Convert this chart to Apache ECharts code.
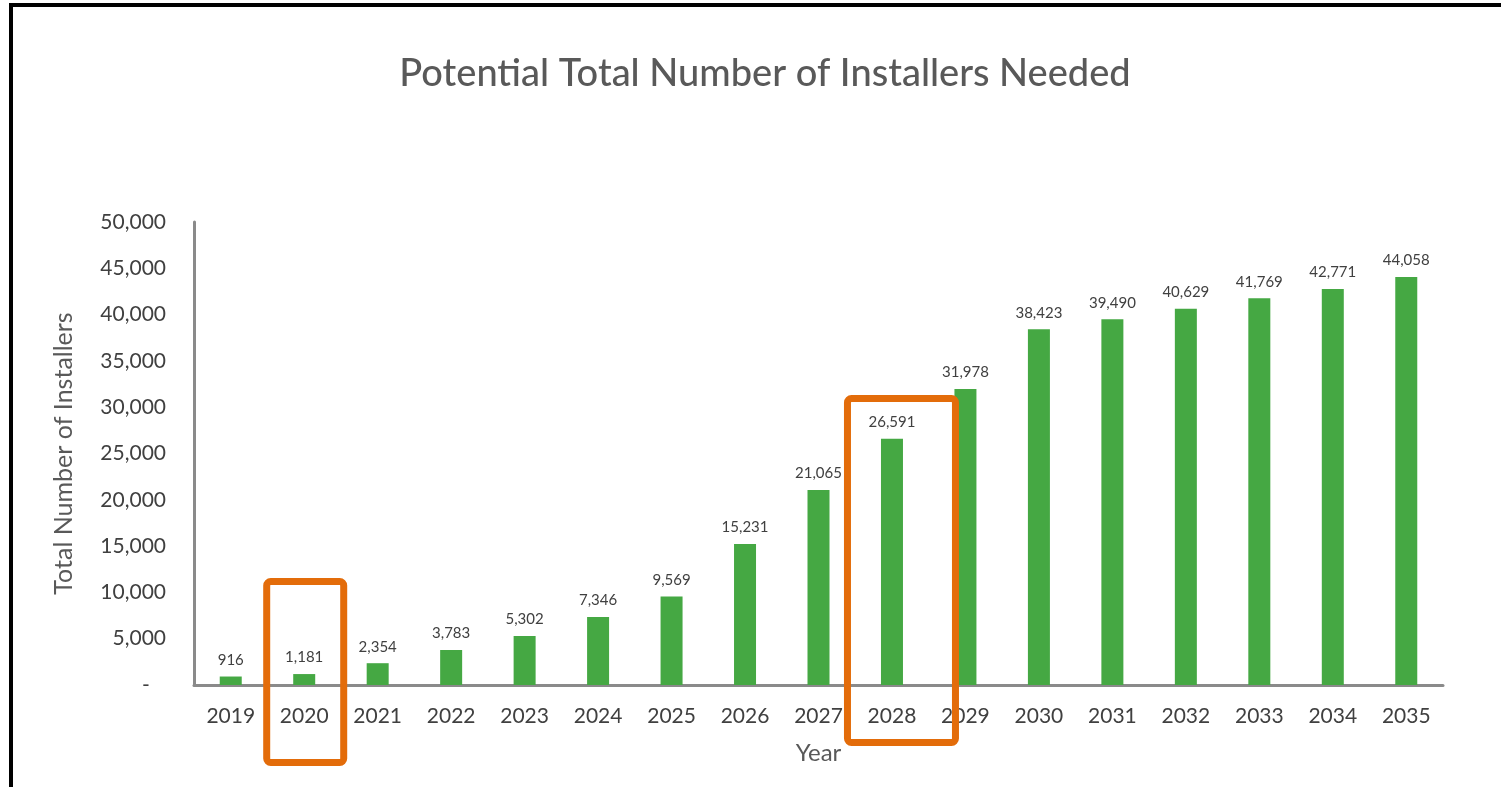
<!DOCTYPE html>
<html>
<head>
<meta charset="utf-8">
<script src="https://cdn.jsdelivr.net/npm/echarts@6/dist/echarts.min.js"></script>
<style>
html, body { margin: 0; padding: 0; background: #fff; }
#main { width: 1501px; height: 787px; }
</style>
</head>
<body>
<div id="main"></div>
<script>
// 年份与安装人员数量
var years = ["2019", "2020", "2021", "2022", "2023", "2024", "2025", "2026", "2027",
	"2028", "2029", "2030", "2031", "2032", "2033", "2034", "2035"];
var installers = [916, 1181, 2354, 3783, 5302, 7346, 9569, 15231, 21065,
	26591, 31978, 38423, 39490, 40629, 41769, 42771, 44058];
// 需要框起来的年份
var highlight_years = ["2020", "2028"];
var highlight_boxes = [
	{ year: "2020", left: 41, right: 43, top: 578, bottom: 766 },
	{ year: "2028", left: 48, right: 67, top: 395, bottom: 746 }
];

var font = "Lato, 'Open Sans', sans-serif";
function fmt(v) {
	if (v === 0) return "-";
	return v.toLocaleString("en-US");
}

var chart = echarts.init(document.getElementById("main"));
var option = {
	backgroundColor: "#fff",
	animation: false,
	title: {
		text: "Potential Total Number of Installers Needed",
		left: 760,
		textAlign: "center",
		top: 50,
		textStyle: { color: "#595959", fontSize: 38, fontWeight: 500, fontFamily: font }
	},
	grid: { left: 194, right: 58, top: 222, bottom: 102 },
	xAxis: {
		type: "category",
		data: years,
		name: "Year",
		nameLocation: "middle",
		nameGap: 56,
		nameTextStyle: { color: "#595959", fontSize: 24, fontFamily: font },
		axisLine: { lineStyle: { color: "#8a8a8a", width: 3 } },
		axisTick: { show: false },
		axisLabel: { color: "#404040", fontSize: 21, fontFamily: font, margin: 21, interval: 0 }
	},
	yAxis: {
		type: "value",
		min: 0,
		max: 50000,
		interval: 5000,
		name: "Total Number of Installers",
		nameLocation: "middle",
		nameGap: 118,
		nameTextStyle: { color: "#595959", fontSize: 25, fontFamily: font },
		axisLine: { show: true, lineStyle: { color: "#8a8a8a", width: 3 } },
		axisTick: { show: false },
		splitLine: { show: false },
		axisLabel: {
			color: "#404040", fontSize: 21, fontFamily: font, margin: 28,
			formatter: function (v) { return v === 0 ? "-   " : fmt(v); }
		}
	},
	series: [{
		type: "bar",
		data: installers,
		barWidth: 22,
		itemStyle: { color: "#45a843" },
		label: {
			show: true,
			position: "top",
			distance: 9,
			color: "#404040",
			fontSize: 15,
			fontFamily: font,
			formatter: function (p) { return fmt(p.value); }
		}
	}]
};
chart.setOption(option);

// 外框与橙色标注框
var graphics = [
	{ type: "rect", shape: { x: 9, y: 3, width: 4, height: 800 }, style: { fill: "#000" }, z: 100 },
	{ type: "rect", shape: { x: 9, y: 3, width: 1500, height: 4 }, style: { fill: "#000" }, z: 100 }
];
for (var i = 0; i < highlight_boxes.length; i++) {
	var b = highlight_boxes[i];
	var cx = chart.convertToPixel({ xAxisIndex: 0 }, b.year);
	graphics.push({
		type: "rect",
		shape: { x: cx - b.left + 3.5, y: b.top + 3.5, width: b.left + b.right - 7, height: b.bottom - b.top - 7, r: 4 },
		style: { fill: "none", stroke: "#e36c0a", lineWidth: 7 },
		z: 100
	});
}
chart.setOption({ graphic: graphics });
</script>
</body>
</html>
